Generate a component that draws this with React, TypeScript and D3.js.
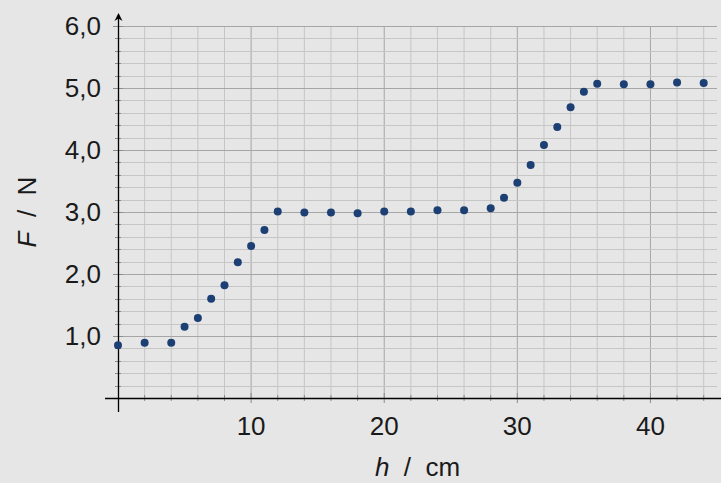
import React, { useEffect, useRef } from "react";
import * as d3 from "d3";

// h in cm, F in N
const heights = [0, 2, 4, 5, 6, 7, 8, 9, 10, 11, 12, 14, 16, 18, 20, 22, 24, 26, 28, 29, 30, 31, 32, 33, 34, 35, 36, 38, 40, 42, 44];
const forces = [0.85, 0.89, 0.89, 1.15, 1.29, 1.6, 1.82, 2.19, 2.45, 2.71, 3.01, 2.99, 2.99, 2.98, 3.01, 3.01, 3.03, 3.03, 3.06, 3.23, 3.47, 3.76, 4.08, 4.37, 4.69, 4.94, 5.07, 5.06, 5.06, 5.09, 5.08];
const xTicks = [10, 20, 30, 40];
const yTicks = [1, 2, 3, 4, 5, 6];

const W = 721;
const H = 483;

export default function App() {
  const ref = useRef<SVGSVGElement>(null);

  useEffect(() => {
    document.body.style.margin = "0";
    document.body.style.background = "#e6e6e6";

    const svg = d3.select(ref.current);
    svg.selectAll("*").remove();

    const x = d3.scaleLinear().domain([0, 45]).range([118, 717]);
    const y = d3.scaleLinear().domain([0, 6]).range([398, 26]);
    const font = "'Liberation Sans', Arial, sans-serif";

    svg.append("rect").attr("width", W).attr("height", H).attr("fill", "#e6e6e6");

    // grid
    const grid = svg.append("g");
    const xMinor = d3.range(2, 45, 2);
    grid.selectAll(".vx")
      .data(xMinor)
      .enter()
      .append("line")
      .attr("x1", d => x(d))
      .attr("x2", d => x(d))
      .attr("y1", y(6))
      .attr("y2", y(0))
      .attr("stroke", d => (d % 10 === 0 ? "#a6a6a6" : "#c6c6c6"))
      .attr("stroke-width", 1);

    const yMinor = d3.range(1, 31).map(i => i / 5);
    grid.selectAll(".hy")
      .data(yMinor)
      .enter()
      .append("line")
      .attr("x1", x(0))
      .attr("x2", x(45))
      .attr("y1", d => Math.round(y(d)) + 0.5)
      .attr("y2", d => Math.round(y(d)) + 0.5)
      .attr("stroke", (d, i) => ((i + 1) % 5 === 0 ? "#a6a6a6" : "#c6c6c6"))
      .attr("stroke-width", 1);

    // y ticks
    svg.append("g").selectAll("line")
      .data(yMinor)
      .enter()
      .append("line")
      .attr("x1", (d, i) => ((i + 1) % 5 === 0 ? 113 : 115))
      .attr("x2", (d, i) => ((i + 1) % 5 === 0 ? 123 : 121))
      .attr("y1", d => Math.round(y(d)) + 0.5)
      .attr("y2", d => Math.round(y(d)) + 0.5)
      .attr("stroke", "#8c8c8c");

    // x ticks
    svg.append("g").selectAll("line")
      .data(xMinor)
      .enter()
      .append("line")
      .attr("x1", d => x(d))
      .attr("x2", d => x(d))
      .attr("y1", d => (d % 10 === 0 ? 393 : 395))
      .attr("y2", d => (d % 10 === 0 ? 403 : 401))
      .attr("stroke", "#8c8c8c");

    // axes
    svg.append("line")
      .attr("x1", 105).attr("x2", W)
      .attr("y1", 398.5).attr("y2", 398.5)
      .attr("stroke", "#000").attr("stroke-width", 1.3);
    svg.append("line")
      .attr("x1", 118.5).attr("x2", 118.5)
      .attr("y1", 412).attr("y2", 15)
      .attr("stroke", "#000").attr("stroke-width", 1.3);
    svg.append("path")
      .attr("d", "M118.5,13 L114.5,21 L118.5,18.5 L122.5,21 Z")
      .attr("fill", "#000");

    // tick labels
    svg.append("g").selectAll("text")
      .data(xTicks)
      .enter()
      .append("text")
      .attr("x", d => x(d))
      .attr("y", 435)
      .attr("text-anchor", "middle")
      .attr("font-family", font)
      .attr("font-size", 26)
      .attr("fill", "#1a1a1a")
      .text(d => String(d));

    svg.append("g").selectAll("text")
      .data(yTicks)
      .enter()
      .append("text")
      .attr("x", 101)
      .attr("y", d => y(d) + 9)
      .attr("text-anchor", "end")
      .attr("font-family", font)
      .attr("font-size", 26)
      .attr("fill", "#1a1a1a")
      .text(d => d.toFixed(1).replace(".", ","));

    // axis labels
    const xl = svg.append("text")
      .attr("x", (x(0) + x(45)) / 2)
      .attr("y", 476)
      .attr("text-anchor", "middle")
      .attr("font-family", font)
      .attr("font-size", 26)
      .attr("fill", "#1a1a1a")
      .attr("xml:space", "preserve");
    xl.append("tspan").attr("font-style", "italic").text("h");
    xl.append("tspan").text("  /  cm");

    const yl = svg.append("text")
      .attr("transform", `translate(36, ${y(3)}) rotate(-90)`)
      .attr("text-anchor", "middle")
      .attr("font-family", font)
      .attr("font-size", 26)
      .attr("fill", "#1a1a1a")
      .attr("xml:space", "preserve");
    yl.append("tspan").attr("font-style", "italic").text("F");
    yl.append("tspan").text("  /  N");

    // data
    svg.append("g").selectAll("circle")
      .data(heights)
      .enter()
      .append("circle")
      .attr("cx", d => x(d))
      .attr("cy", (d, i) => y(forces[i]))
      .attr("r", 4)
      .attr("fill", "#1c3f74");
  }, []);

  return (
    <svg ref={ref} width={W} height={H} style={{ display: "block" }}></svg>
  );
}
